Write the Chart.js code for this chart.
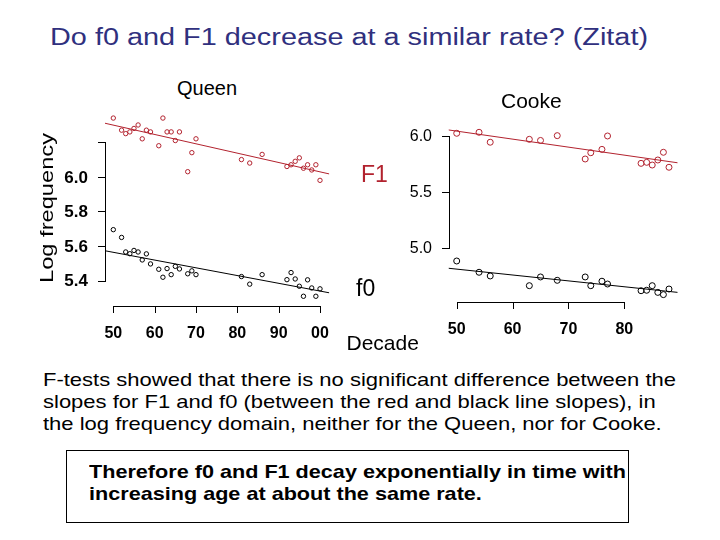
<!DOCTYPE html>
<html>
<head>
<meta charset="utf-8">
<script src="https://cdn.jsdelivr.net/npm/chart.js@4/dist/chart.umd.min.js"></script>
<style>
  body { margin: 0; background: #fff; }
  #page { position: relative; width: 720px; height: 540px; overflow: hidden; background: #fff;
          font-family: "Liberation Sans", Arial, sans-serif; }
  .t { position: absolute; white-space: nowrap; line-height: 1; z-index: 2; }
  .panel { position: absolute; top: 100px; width: 360px; height: 250px; z-index: 1; }
  .ax { position: absolute; background: #000; z-index: 3; }
  #box { position: absolute; left: 66px; top: 450px; width: 561px; height: 71px; border: 1px solid #000; }
</style>
</head>
<body>
<div id="page">
  <div class="t" id="title" style="left:50px;top:25px;font-size:24.7px;color:#30307e;">Do f0 and F1 decrease at a similar rate? (Zitat)</div>

  <div class="t" style="left:177px;top:78px;font-size:20px;">Queen</div>
  <div class="t" style="left:501px;top:89.5px;font-size:21px;">Cooke</div>
  <div class="t" id="ylab" style="left:46px;top:208px;font-size:19px;">Log frequency</div>
  <div class="t" style="left:361px;top:163px;font-size:23px;color:#b2222e;">F1</div>
  <div class="t" style="left:356px;top:277px;font-size:23px;">f0</div>
  <div class="t" style="left:346.5px;top:332px;font-size:21px;">Decade</div>

  <div class="panel" style="left:0"><canvas id="queen" width="360" height="250"></canvas></div>
  <div class="panel" style="left:360px"><canvas id="cooke" width="360" height="250"></canvas></div>

  <div class="t" id="p1" style="left:42.7px;top:371px;font-size:18.6px;">F-tests showed that there is no significant difference between the</div>
  <div class="t" id="p2" style="left:42.7px;top:392.8px;font-size:18.6px;">slopes for F1 and f0 (between the red and black line slopes), in</div>
  <div class="t" id="p3" style="left:42.7px;top:414.6px;font-size:18.6px;">the log frequency domain, neither for the Queen, nor for Cooke.</div>

  <div id="box"></div>
  <div class="t" id="b1" style="left:89px;top:464.3px;font-size:17.7px;font-weight:bold;">Therefore f0 and F1 decay exponentially in time with</div>
  <div class="t" id="b2" style="left:89px;top:486px;font-size:17.7px;font-weight:bold;">increasing age at about the same rate.</div>
</div>

<script>
// Queen: decade (19xx) and log frequency
const queenYears = [50, 52, 53, 54, 55, 56, 57, 58, 59, 61, 62, 63, 64, 65, 66, 68, 69, 70, 81, 83, 86, 92, 93, 94, 95, 96, 97, 98, 99, 100];
const queenF1 = [6.34, 6.27, 6.25, 6.26, 6.28, 6.30, 6.22, 6.27, 6.26, 6.18, 6.34, 6.26, 6.26, 6.21, 6.26, 6.03, 6.14, 6.22, 6.10, 6.08, 6.13, 6.06, 6.07, 6.09, 6.11, 6.05, 6.07, 6.04, 6.07, 5.98];
const queenF0 = [5.695, 5.65, 5.566, 5.556, 5.575, 5.566, 5.52, 5.555, 5.497, 5.466, 5.42, 5.47, 5.435, 5.483, 5.468, 5.44, 5.457, 5.435, 5.424, 5.38, 5.435, 5.406, 5.447, 5.41, 5.368, 5.31, 5.405, 5.358, 5.31, 5.353];
// Regressionsgeraden (Endpunkte am Rand des Plots)
const queenFitX = [47.99, 102.25];
const queenF1Fit = [6.31, 6.017];
const queenF0Fit = [5.573, 5.33];

// Cooke
const cookeYears = [50, 54, 56, 63, 65, 68, 73, 74, 76, 77, 83, 84, 85, 86, 87, 88];
const cookeF1 = [6.024, 6.033, 5.944, 5.97, 5.96, 6.003, 5.794, 5.85, 5.88, 6.0, 5.755, 5.764, 5.74, 5.785, 5.854, 5.72];
const cookeF0 = [4.881, 4.78, 4.747, 4.66, 4.738, 4.708, 4.738, 4.66, 4.70, 4.675, 4.615, 4.619, 4.66, 4.60, 4.58, 4.63];
const cookeFitX = [48.53, 89.56];
const cookeF1Fit = [6.054, 5.76];
const cookeF0Fit = [4.816, 4.60];

// Achsen
const queenXTicks = [50, 60, 70, 80, 90, 100];
const queenXLabels = ['50', '60', '70', '80', '90', '00'];
const queenYTicks = [5.4, 5.6, 5.8, 6.0, 6.2];
const queenYLabels = ['5.4', '5.6', '5.8', '6.0', ''];
const cookeXTicks = [50, 60, 70, 80];
const cookeXLabels = ['50', '60', '70', '80'];
const cookeYTicks = [5.0, 5.5, 6.0];
const cookeYLabels = ['5.0', '5.5', '6.0'];

const RED = '#b2222e';

const pts = (xs, ys) => xs.map((x, i) => ({ x: x, y: ys[i] }));

// Tick-Beschriftungen im Canvas
function rLabels(o) {
    return {
        id: 'rLabels',
        afterDraw(chart) {
            const { ctx, chartArea, scales } = chart;
            const ax = Math.round(chartArea.left);
            const ay = Math.round(chartArea.bottom);
            ctx.save();
            ctx.fillStyle = '#000';
            ctx.font = o.yFont;
            ctx.textAlign = 'right';
            ctx.textBaseline = 'middle';
            o.yTicks.forEach((v, i) => ctx.fillText(o.yLabels[i], ax - o.yGap, scales.y.getPixelForValue(v) + 1));
            ctx.font = o.xFont;
            ctx.textAlign = 'center';
            o.xTicks.forEach((v, i) => ctx.fillText(o.xLabels[i], scales.x.getPixelForValue(v), ay + o.xGap));
            ctx.restore();
        }
    };
}

// R-Achsen (Linie nur zwischen erstem und letztem Tick, Ticks nach außen) als 1px-Divs,
// Positionen kommen aus den Chart.js-Skalen
function line(x, y, w, h) {
    const d = document.createElement('div');
    d.className = 'ax';
    d.style.left = x + 'px';
    d.style.top = y + 'px';
    d.style.width = w + 'px';
    d.style.height = h + 'px';
    document.getElementById('page').appendChild(d);
}
function rAxes(chart, offX, offY, o) {
    const xs = chart.scales.x, ys = chart.scales.y;
    const ax = offX + Math.round(chart.chartArea.left);
    const ay = offY + Math.round(chart.chartArea.bottom);
    const yTop = offY + Math.round(ys.getPixelForValue(o.yTicks[o.yTicks.length - 1]));
    const yBot = offY + Math.round(ys.getPixelForValue(o.yTicks[0]));
    line(ax, yTop, 1, yBot - yTop + 1);
    o.yTicks.forEach(v => line(ax - o.tick, offY + Math.round(ys.getPixelForValue(v)), o.tick, 1));
    const xL = offX + Math.round(xs.getPixelForValue(o.xTicks[0]));
    const xR = offX + Math.round(xs.getPixelForValue(o.xTicks[o.xTicks.length - 1]));
    line(xL, ay, xR - xL + 1, 1);
    o.xTicks.forEach(v => line(offX + Math.round(xs.getPixelForValue(v)), ay, 1, o.tick));
}

function makePanel(id, offX, cfg) {
    const chart = new Chart(document.getElementById(id), {
        type: 'scatter',
        data: {
            datasets: [
                { data: pts(cfg.fitX, cfg.f1Fit), type: 'line', borderColor: RED, borderWidth: 1, pointRadius: 0 },
                { data: pts(cfg.fitX, cfg.f0Fit), type: 'line', borderColor: '#000', borderWidth: 1, pointRadius: 0 },
                { data: pts(cfg.years, cfg.f1), borderColor: RED, backgroundColor: 'rgba(0,0,0,0)', borderWidth: 1, pointRadius: cfg.r },
                { data: pts(cfg.years, cfg.f0), borderColor: '#000', backgroundColor: 'rgba(0,0,0,0)', borderWidth: 1, pointRadius: cfg.r }
            ]
        },
        options: {
            responsive: false,
            animation: false,
            devicePixelRatio: 1,
            layout: { padding: cfg.padding },
            plugins: {
                legend: { display: false },
                tooltip: { enabled: false }
            },
            scales: {
                x: { type: 'linear', display: false, min: cfg.xMin, max: cfg.xMax },
                y: { type: 'linear', display: false, min: cfg.yMin, max: cfg.yMax }
            }
        },
        plugins: [rLabels(cfg.axes)]
    });
    rAxes(chart, offX, 100, cfg.axes);
    return chart;
}

makePanel('queen', 0, {
    years: queenYears, f1: queenF1, f0: queenF0,
    fitX: queenFitX, f1Fit: queenF1Fit, f0Fit: queenF0Fit,
    r: 2.2,
    padding: { left: 105, right: 30.7, top: 12, bottom: 44.3 },
    xMin: 47.99, xMax: 102.25, yMin: 5.2555, yMax: 6.375,
    axes: { xTicks: queenXTicks, xLabels: queenXLabels, yTicks: queenYTicks, yLabels: queenYLabels,
            tick: 7, yGap: 17, xGap: 27.5,
            yFont: 'bold 17px "Liberation Sans", Arial, sans-serif',
            xFont: 'bold 16px "Liberation Sans", Arial, sans-serif' }
});

makePanel('cooke', 360, {
    years: cookeYears, f1: cookeF1, f0: cookeF0,
    fitX: cookeFitX, f1Fit: cookeF1Fit, f0Fit: cookeF0Fit,
    r: 3,
    padding: { left: 88.5, right: 42.3, top: 20, bottom: 48.3 },
    xMin: 48.53, xMax: 89.56, yMin: 4.5166, yMax: 6.143,
    axes: { xTicks: cookeXTicks, xLabels: cookeXLabels, yTicks: cookeYTicks, yLabels: cookeYLabels,
            tick: 7, yGap: 17, xGap: 27.5,
            yFont: '16px "Liberation Sans", Arial, sans-serif',
            xFont: 'bold 16px "Liberation Sans", Arial, sans-serif' }
});

// Texte auf die Breite der Vorlage strecken
function stretch(el, w) {
    const k = w / el.getBoundingClientRect().width;
    el.style.transformOrigin = 'left center';
    el.style.transform = 'scaleX(' + k + ')';
    return k;
}
stretch(document.getElementById('title'), 598);
const kp = stretch(document.getElementById('p1'), 633);
['p2', 'p3'].forEach(id => {
    const el = document.getElementById(id);
    el.style.transformOrigin = 'left center';
    el.style.transform = 'scaleX(' + kp + ')';
});
const kb = stretch(document.getElementById('b1'), 537);
const b2 = document.getElementById('b2');
b2.style.transformOrigin = 'left center';
b2.style.transform = 'scaleX(' + kb + ')';

const yl = document.getElementById('ylab');
const ky = 150 / yl.getBoundingClientRect().width;
yl.style.transformOrigin = 'center center';
yl.style.transform = 'translate(-50%, -50%) rotate(-90deg) scaleX(' + ky + ')';
</script>
</body>
</html>
